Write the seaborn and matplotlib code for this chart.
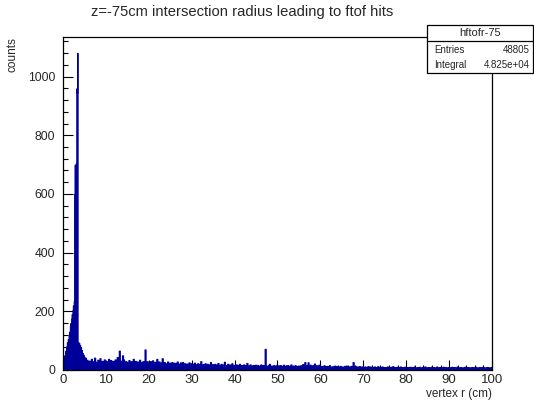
import numpy as np
import pandas as pd
import matplotlib
matplotlib.use("Agg")  # no display in the sandbox
import matplotlib.pyplot as plt
from matplotlib.patches import Rectangle
from matplotlib.lines import Line2D
from matplotlib.ticker import MultipleLocator
import seaborn as sns

# --- data ------------------------------------------------------------------
# 0.1 cm bins, 0 - 6 cm (rise and main peak)
peak_counts = [
    12, 35, 28, 50, 45, 65, 58, 80, 72, 95,
    88, 105, 98, 120, 130, 125, 150, 160, 155, 175,
    190, 185, 205, 220, 215, 235, 600, 700, 585, 690,
    705, 960, 945, 1081, 12, 95, 80, 92, 70, 85,
    60, 78, 52, 68, 45, 58, 40, 52, 35, 45,
    38, 25, 42, 20, 30, 18, 35, 22, 28, 15,
]
# 0.25 cm bins, 6 - 100 cm (tail)
tail_counts = [
    32, 24, 38, 26, 30, 42, 28, 22, 35, 27, 40, 24, 31, 28, 36, 22,
    30, 24, 38, 26, 34, 22, 31, 27, 36, 24, 44, 26, 66, 28, 32, 50, 36, 25, 30, 22,
    28, 34, 24, 30, 26, 38, 23, 31, 22, 29, 26, 35, 22, 27, 30, 28, 70, 24, 30, 22,
    24, 30, 20, 33, 25, 28, 22, 38, 24, 29, 21, 26, 40, 22, 27, 23, 20, 29, 18, 25,
    22, 27, 18, 25, 20, 24, 29, 18, 22, 26, 20, 27, 17, 23, 20, 22, 18, 26, 19, 23,
    18, 21, 25, 16, 20, 23, 18, 21, 30, 16, 20, 18, 23, 16, 21, 19, 17, 27, 16, 20,
    17, 21, 15, 19, 24, 15, 18, 21, 14, 19, 28, 15, 17, 21, 14, 19, 15, 23, 14, 17,
    15, 19, 13, 17, 21, 14, 17, 15, 19, 13, 17, 24, 14, 16, 19, 13, 15, 17, 13, 18,
    14, 17, 13, 15, 19, 13, 17, 14, 72, 15, 13, 17, 21, 13, 15, 14, 17, 13, 15, 18,
    13, 15, 17, 12, 14, 18, 13, 15, 12, 17, 14, 13, 19, 12, 15, 13, 16, 12, 14, 15,
    13, 16, 14, 20, 13, 27, 15, 17, 26, 14, 18, 15, 13, 17, 22, 14, 16, 13, 18, 14,
    12, 14, 11, 16, 12, 13, 14, 11, 16, 12, 10, 13, 12, 15, 11, 13, 12, 10, 14, 11,
    12, 10, 14, 11, 13, 15, 12, 10, 14, 12, 27, 11, 14, 10, 12, 11, 13, 10, 12, 11,
    10, 12, 9, 11, 13, 10, 12, 9, 11, 10, 12, 9, 10, 13, 9, 11, 10, 12, 9, 10,
    10, 9, 12, 10, 9, 11, 10, 13, 9, 10, 8, 11, 9, 10, 12, 8, 10, 9, 11, 8,
    9, 10, 8, 11, 9, 10, 8, 12, 9, 8, 10, 9, 11, 8, 9, 10, 8, 12, 9, 8,
    10, 8, 9, 11, 8, 10, 9, 8, 12, 9, 8, 10, 8, 9, 11, 8, 10, 9, 8, 10,
    8, 9, 11, 8, 10, 8, 9, 12, 8, 9, 10, 8, 9, 8, 11, 8, 9, 10, 8, 9,
    8, 10, 8, 9, 11, 8, 9, 8, 10, 8, 9, 11, 8, 9, 8, 10, 8, 9, 8, 10,
]

hist_name = "hftofr-75"
n_entries = "48805"
integral = "4.825e+04"
title = "z=-75cm intersection radius leading to ftof hits"
x_label = "vertex r (cm)"
y_label = "counts"

# --- binning -----------------------------------------------------------------
edges = np.concatenate([
    np.round(np.arange(0, 6.0001, 0.1), 2),
    np.round(np.arange(6.25, 100.0001, 0.25), 2),
])
counts = np.array(peak_counts + tail_counts, dtype=float)
assert len(counts) == len(edges) - 1
df = pd.DataFrame({
    "r": 0.5 * (edges[:-1] + edges[1:]),
    "n": counts,
})

# --- figure ------------------------------------------------------------------
sns.set_style("white")
plt.rcParams["font.family"] = ["Liberation Sans", "DejaVu Sans"]

W, H = 534, 405
fig = plt.figure(figsize=(W / 100, H / 100), dpi=100)
ax = fig.add_axes([63 / W, 1 - 370 / H, (492 - 63) / W, (370 - 37) / H])

line_col = "#000099"
sns.histplot(
    data=df, x="r", weights="n", bins=list(edges),
    element="step", fill=True, alpha=1.0,
    color=line_col, linewidth=0.8, ax=ax,
)

ax.set_xlim(0, 100)
ax.set_ylim(0, 1135)
ax.xaxis.set_major_locator(MultipleLocator(10))
ax.xaxis.set_minor_locator(MultipleLocator(2))
ax.yaxis.set_major_locator(MultipleLocator(200))
ax.yaxis.set_minor_locator(MultipleLocator(40))
# ROOT style: ticks inside the frame, bottom and left only
ax.tick_params(which="both", bottom=True, left=True, top=False, right=False,
               direction="in", width=0.8, color="black")
ax.tick_params(which="major", length=7)
ax.tick_params(which="minor", length=3.5)
ax.tick_params(axis="x", labelsize=9.5, pad=3)
ax.tick_params(axis="y", labelsize=8.8, pad=5.5)

for sp in ax.spines.values():
    sp.set_color("black")
    sp.set_linewidth(0.9)

ax.set_xlabel(x_label, fontsize=8.5, loc="right", labelpad=1)
ax.set_ylabel(y_label, fontsize=8.5, loc="top")
ax.yaxis.set_label_coords(-0.103, 1.0)

fig.text(242 / W, 1 - 12 / H, title, ha="center", va="center", fontsize=10.6)

# --- stats box ---------------------------------------------------------------
bx0, bx1 = 427 / W, 533 / W
by_top, by_div, by_bot = 1 - 25 / H, 1 - 41 / H, 1 - 73 / H
fig.patches.append(Rectangle((bx0, by_bot), bx1 - bx0, by_top - by_bot,
                             transform=fig.transFigure, facecolor="white",
                             edgecolor="black", linewidth=0.9, zorder=5))
fig.lines.append(Line2D([bx0, bx1], [by_div, by_div], transform=fig.transFigure,
                        color="black", linewidth=0.9, zorder=6))
fig.text((bx0 + bx1) / 2, 1 - 33 / H, hist_name, ha="center", va="center",
         fontsize=8, zorder=7)
fig.text(434 / W, 1 - 50 / H, "Entries", ha="left", va="center", fontsize=7, zorder=7)
fig.text(530 / W, 1 - 50 / H, n_entries, ha="right", va="center", fontsize=7, zorder=7)
fig.text(434 / W, 1 - 65 / H, "Integral", ha="left", va="center", fontsize=7, zorder=7)
fig.text(530 / W, 1 - 65 / H, integral, ha="right", va="center", fontsize=7, zorder=7)

fig.savefig("out.png", dpi=100)
